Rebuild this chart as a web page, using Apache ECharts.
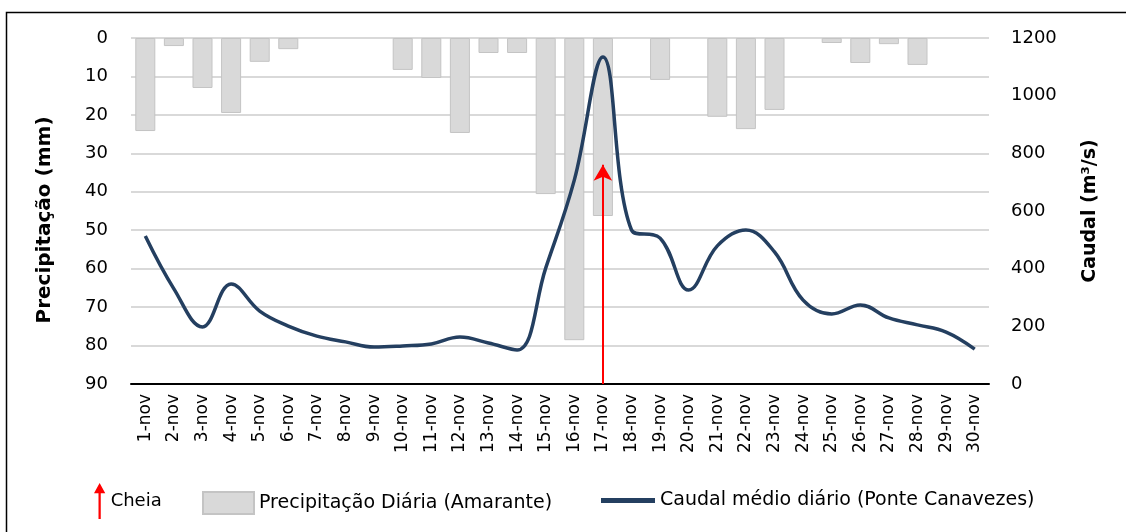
<!DOCTYPE html>
<html>
<head>
<meta charset="utf-8">
<script src="https://cdn.jsdelivr.net/npm/echarts@6/dist/echarts.min.js"></script>
<style>
  html, body { margin:0; padding:0; background:#fff; }
  #chart { width:1126px; height:532px; }
</style>
</head>
<body>
<div id="chart"></div>
<script>
// ========= data =========
const days = [];
for (let d = 1; d <= 30; d++) days.push(d + "-nov");

const precipitacao = [24.2, 2.1, 13, 19.5, 6.2, 2.9, 0, 0, 0, 8.3,
                      10.4, 24.7, 3.9, 3.9, 40.6, 78.6, 46.3, 0, 10.9, 0,
                      20.5, 23.7, 18.7, 0, 1.3, 6.5, 1.6, 7, 0, 0];

const caudal = [513, 330, 198, 347, 253, 201, 166, 146, 128, 132,
                139, 163, 142, 118, 402, 707, 1134, 534, 506, 326,
                479, 534, 458, 291, 243, 274, 229, 205, 180, 121];

const cheiaDia = "17-nov";
const cheiaTopo = 760;

const precTicks = { min: 0, max: 90, interval: 10 };
const caudalTicks = { min: 0, max: 1200, interval: 200 };

// ========= chart =========
const font = "'DejaVu Sans', sans-serif";
const chart = echarts.init(document.getElementById("chart"));

const arrowIcon = "path://M5,0 L10,9 L6,9 L6,32 L4,32 L4,9 L0,9 Z";

// zero days draw no bar at all
const precBars = precipitacao.map(v => v === 0 ? null : v);

chart.setOption({
    animation: false,
    textStyle: { fontFamily: font },
    grid: { left: 131, right: 137, top: 38, bottom: 148 },
    graphic: [{
        type: "rect",
        shape: { x: 6.5, y: 12.5, width: 1130, height: 530 },
        style: { fill: "none", stroke: "#000", lineWidth: 1.5 }
    }],
    legend: [
        {
            data: [{ name: "Cheia", icon: arrowIcon }],
            left: 89, top: 478, itemWidth: 12, itemHeight: 36, itemGap: 4,
            textStyle: { fontSize: 18, color: "#000", fontFamily: font }
        },
        {
            data: [{ name: "Precipitação Diária (Amarante)", icon: "rect" }],
            left: 197, top: 486, itemWidth: 51, itemHeight: 22, itemGap: 4,
            textStyle: { fontSize: 19, color: "#000", fontFamily: font }
        },
        {
            data: [{ name: "Caudal médio diário (Ponte Canavezes)", icon: "rect" }],
            left: 596, top: 486, itemWidth: 54, itemHeight: 5,
            textStyle: { fontSize: 19, color: "#000", fontFamily: font }
        }
    ],
    xAxis: {
        type: "category",
        data: days,
        axisLine: { onZero: false, lineStyle: { color: "#000", width: 2 } },
        axisTick: { show: false },
        axisLabel: { rotate: 90, fontSize: 17, color: "#000", interval: 0, margin: 10 }
    },
    yAxis: [
        {
            type: "value",
            inverse: true,
            min: precTicks.min, max: precTicks.max, interval: precTicks.interval,
            name: "Precipitação (mm)",
            nameLocation: "middle",
            nameGap: 76,
            nameTextStyle: { fontSize: 20, fontWeight: "bold", color: "#000", padding: [0, 18, 0, 0] },
            axisLine: { show: false },
            axisTick: { show: false },
            axisLabel: { fontSize: 18, color: "#000", margin: 23 },
            splitLine: { lineStyle: { color: "#d9d9d9", width: 2 } }
        },
        {
            type: "value",
            min: caudalTicks.min, max: caudalTicks.max, interval: caudalTicks.interval,
            name: "Caudal (m³/s)",
            nameLocation: "middle",
            nameGap: 92,
            nameRotate: 90,
            nameTextStyle: { fontSize: 19, fontWeight: "bold", color: "#000" },
            axisLine: { show: false },
            axisTick: { show: false },
            axisLabel: { fontSize: 18, color: "#000", margin: 22, formatter: v => String(v) },
            splitLine: { show: false }
        }
    ],
    series: [
        {
            name: "Precipitação Diária (Amarante)",
            type: "bar",
            yAxisIndex: 0,
            data: precBars,
            barCategoryGap: "30%",
            itemStyle: { color: "#d9d9d9", borderColor: "#c4c4c4", borderWidth: 1 }
        },
        {
            name: "Caudal médio diário (Ponte Canavezes)",
            type: "line",
            yAxisIndex: 1,
            data: caudal,
            smooth: 0.4,
            symbol: "none",
            itemStyle: { color: "#243f60" },
            lineStyle: { color: "#243f60", width: 3.5 }
        },
        {
            name: "Cheia",
            type: "line",
            yAxisIndex: 1,
            data: [],
            itemStyle: { color: "#ff0000" },
            markLine: {
                silent: true,
                symbol: ["none", "arrow"],
                symbolSize: [14, 16],
                label: { show: false },
                lineStyle: { color: "#ff0000", width: 2, type: "solid" },
                data: [[{ coord: [cheiaDia, 0] }, { coord: [cheiaDia, cheiaTopo] }]]
            }
        }
    ]
});
</script>
</body>
</html>
